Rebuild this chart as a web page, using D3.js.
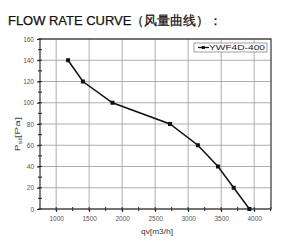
<!DOCTYPE html>
<html>
<head>
<meta charset="utf-8">
<script src="https://cdn.jsdelivr.net/npm/d3@7"></script>
<style>
body { margin: 0; background: #fff; }
</style>
</head>
<body>
<script>
var flow = [1180, 1405, 1853, 2725, 3147, 3452, 3690, 3928];
var pressure = [140, 120, 100, 80, 60, 40, 20, 0];
var xTicks = [1000, 1500, 2000, 2500, 3000, 3500, 4000];
var yTicks = [0, 20, 40, 60, 80, 100, 120, 140, 160];
var seriesName = "YWF4D-400";

var svgWidth = 300, svgHeight = 249;
var svg = d3.select("body").append("svg")
    .attr("width", svgWidth)
    .attr("height", svgHeight)
    .style("font-family", "Liberation Sans, Arial, sans-serif");

// title
svg.append("text")
    .attr("x", 8)
    .attr("y", 25)
    .attr("font-size", 13)
    .attr("fill", "#111")
    .attr("stroke", "#111").attr("stroke-width", 0.25)
    .attr("textLength", 214)
    .attr("lengthAdjust", "spacingAndGlyphs")
    .text("FLOW RATE CURVE（风量曲线）：");

var pLeft = 40, pRight = 271, pTop = 39, pBottom = 209;
var x = d3.scaleLinear().domain([755, 4255]).range([pLeft, pRight]);
var y = d3.scaleLinear().domain([0, 160]).range([pBottom, pTop]);

// grid
svg.append("g").selectAll("line").data(xTicks).join("line")
    .attr("x1", d => x(d)).attr("x2", d => x(d))
    .attr("y1", pTop).attr("y2", pBottom)
    .attr("stroke", "#999").attr("stroke-width", 0.8);
svg.append("g").selectAll("line").data(yTicks).join("line")
    .attr("x1", pLeft).attr("x2", pRight)
    .attr("y1", d => y(d)).attr("y2", d => y(d))
    .attr("stroke", "#999").attr("stroke-width", 0.8);

// axes with major + minor ticks
var xAxis = d3.axisBottom(x).tickValues(xTicks).tickFormat(d3.format("d")).tickSize(3).tickPadding(4);
var gx = svg.append("g").attr("transform", "translate(0," + pBottom + ")").call(xAxis);
var xMinor = d3.range(1000, 4251, 250);
gx.selectAll(".minor").data(xMinor).join("line").attr("class", "minor")
    .attr("x1", d => x(d)).attr("x2", d => x(d))
    .attr("y1", -2).attr("y2", 2).attr("stroke", "#222");

var yAxis = d3.axisLeft(y).tickValues(yTicks).tickFormat(d3.format("d")).tickSize(3).tickPadding(3);
var gy = svg.append("g").attr("transform", "translate(" + pLeft + ",0)").call(yAxis);
var yMinor = d3.range(0, 161, 10);
gy.selectAll(".minor").data(yMinor).join("line").attr("class", "minor")
    .attr("x1", -2).attr("x2", 2)
    .attr("y1", d => y(d)).attr("y2", d => y(d)).attr("stroke", "#222");

[gx, gy].forEach(function (g) {
    g.select(".domain").remove();
    g.selectAll(".tick line").attr("stroke", "#222");
    g.selectAll(".tick text").attr("font-size", 6.5).attr("fill", "#555")
        .style("font-family", "Liberation Sans, Arial, sans-serif");
});

// frame
svg.append("rect")
    .attr("x", pLeft).attr("y", pTop)
    .attr("width", pRight - pLeft).attr("height", pBottom - pTop)
    .attr("fill", "none").attr("stroke", "#333").attr("stroke-width", 1.2);

// series
var pts = flow.map((f, i) => [f, pressure[i]]);
svg.append("path")
    .datum(pts)
    .attr("d", d3.line().x(d => x(d[0])).y(d => y(d[1])))
    .attr("fill", "none").attr("stroke", "#111").attr("stroke-width", 1.5);
svg.append("g").selectAll("rect").data(pts).join("rect")
    .attr("x", d => x(d[0]) - 2).attr("y", d => y(d[1]) - 2)
    .attr("width", 4).attr("height", 4).attr("fill", "#111");

// legend
var lg = svg.append("g").attr("transform", "translate(194,43)");
lg.append("rect").attr("width", 73).attr("height", 9)
    .attr("fill", "#fff").attr("stroke", "#888").attr("stroke-width", 0.8);
lg.append("line").attr("x1", 4).attr("x2", 15).attr("y1", 4.5).attr("y2", 4.5)
    .attr("stroke", "#111").attr("stroke-width", 1.3);
lg.append("rect").attr("x", 7.8).attr("y", 3).attr("width", 3).attr("height", 3).attr("fill", "#111");
lg.append("text").attr("x", 15).attr("y", 7.4).attr("font-size", 7.5).attr("fill", "#222")
    .attr("textLength", 56).attr("lengthAdjust", "spacingAndGlyphs")
    .text(seriesName);

// axis titles
svg.append("text")
    .attr("x", 141).attr("y", 234)
    .attr("font-size", 8).attr("fill", "#333")
    .attr("textLength", 32).attr("lengthAdjust", "spacingAndGlyphs")
    .text("qv[m3/h]");
var yl = svg.append("text")
    .attr("transform", "translate(20,151) rotate(-90)")
    .attr("font-size", 7.5).attr("fill", "#444");
yl.append("tspan").attr("textLength", 6.5).attr("lengthAdjust", "spacingAndGlyphs").text("P");
yl.append("tspan").attr("font-size", 5.5).attr("dy", 1.5)
    .attr("textLength", 6.5).attr("lengthAdjust", "spacingAndGlyphs").text("st");
yl.append("tspan").attr("dy", -1.5)
    .attr("textLength", 21).attr("lengthAdjust", "spacingAndGlyphs").text("[Pa]");
</script>
</body>
</html>
